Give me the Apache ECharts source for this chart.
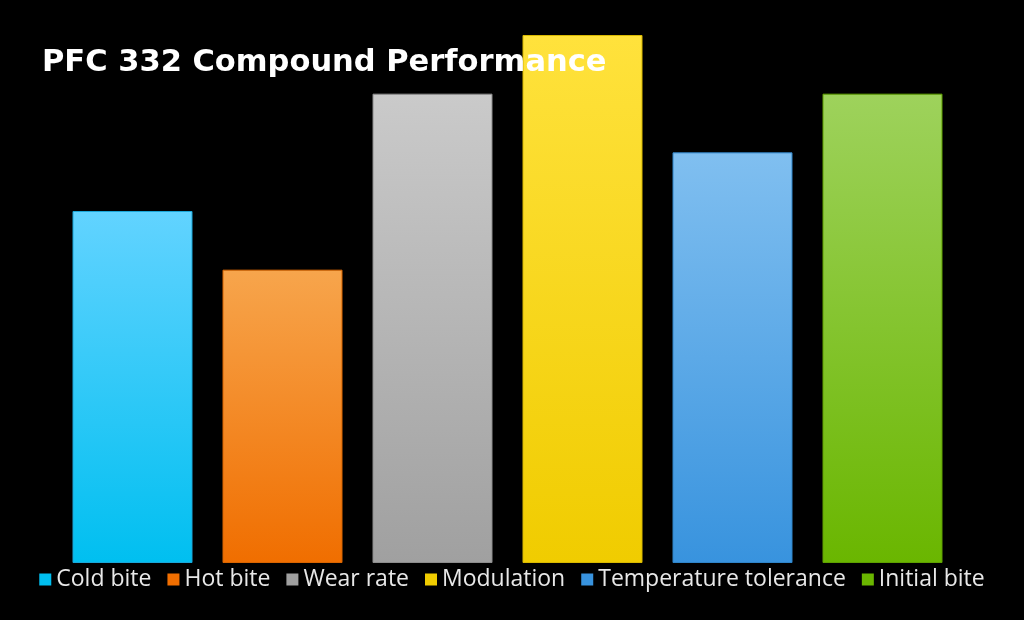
<!DOCTYPE html>
<html>
<head>
<meta charset="utf-8">
<script src="https://cdn.jsdelivr.net/npm/echarts@6/dist/echarts.min.js"></script>
<style>
  html, body { margin: 0; padding: 0; background: #000; }
  #chart { width: 1024px; height: 620px; }
</style>
</head>
<body>
<div id="chart"></div>
<script>
const seriesNames = ['Cold bite', 'Hot bite', 'Wear rate', 'Modulation', 'Temperature tolerance', 'Initial bite']
const seriesValues = [6, 5, 8, 9, 7, 8]
const categories = ['PFC 332']
// top / bottom gradient colours per series
const topColors = ['#62d3ff', '#f7a54c', '#cacaca', '#ffe23c', '#80bff0', '#9ed25c']
const bottomColors = ['#00bff0', '#f06e00', '#a0a0a0', '#f0cc00', '#3893de', '#6ab600']
const borderColors = ['#1aa6d8', '#d86400', '#8c8c8c', '#d8b800', '#2f84c8', '#5ea000']

const chart = echarts.init(document.getElementById('chart'))

const series = seriesNames.map((name, i) => {
  return {
    name: name,
    type: 'bar',
    data: [seriesValues[i]],
    barWidth: 120,
    barGap: '25%',
    z: 1,
    itemStyle: {
      color: new echarts.graphic.LinearGradient(0, 0, 0, 1, [
        { offset: 0, color: topColors[i] },
        { offset: 1, color: bottomColors[i] }
      ]),
      borderColor: borderColors[i],
      borderWidth: 1
    },
    emphasis: { disabled: true }
  }
})

chart.setOption({
  backgroundColor: '#000',
  animation: false,
  title: {
    text: 'PFC 332 Compound Performance',
    left: 37,
    top: 43,
    z: 20,
    textStyle: {
      color: '#fff',
      fontFamily: 'DejaVu Sans',
      fontWeight: 'bold',
      fontSize: 30.5
    }
  },
  legend: {
    top: 563,
    left: 'center',
    itemWidth: 12,
    itemHeight: 12,
    itemGap: 16,
    icon: 'rect',
    textStyle: {
      color: '#e8e8e8',
      fontFamily: 'Open Sans',
      fontSize: 23,
      padding: [0, 0, 0, 0]
    },
    data: seriesNames.map((n, i) => ({ name: n, itemStyle: { color: bottomColors[i], borderWidth: 0 } }))
  },
  grid: {
    left: 38,
    right: 47,
    top: 35,
    bottom: 57
  },
  xAxis: {
    type: 'category',
    data: categories,
    show: false
  },
  yAxis: {
    type: 'value',
    min: 0,
    max: 9,
    show: false
  },
  series: series
})
</script>
</body>
</html>
